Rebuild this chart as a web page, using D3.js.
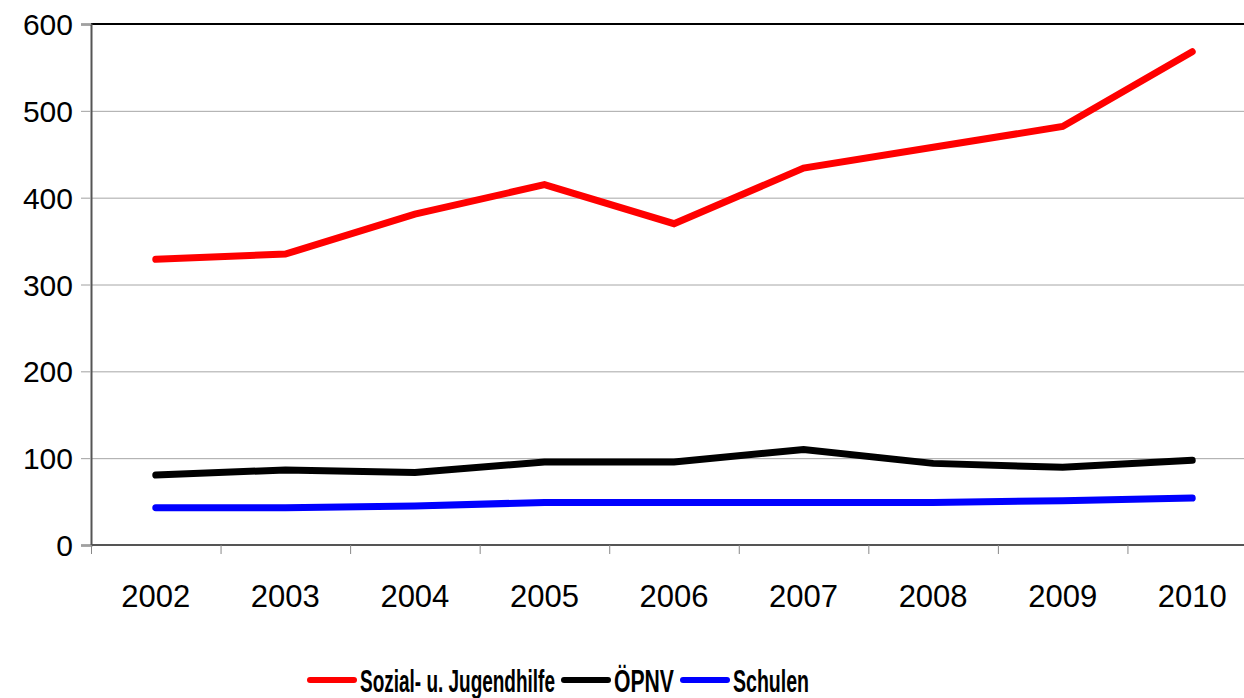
<!DOCTYPE html>
<html>
<head>
<meta charset="utf-8">
<script src="https://cdn.jsdelivr.net/npm/d3@7"></script>
<style>
    body { margin: 0; background: #fff; }
    svg { display: block; }
</style>
</head>
<body>
<svg id="chart" width="1244" height="698"></svg>
<script>
const years = ['2002', '2003', '2004', '2005', '2006', '2007', '2008', '2009', '2010'];
const seriesNames = ['Sozial- u. Jugendhilfe', 'ÖPNV', 'Schulen'];
const seriesColors = ['#ff0000', '#000000', '#0000ff'];
const sozialValues = [329, 335, 381, 415, 370, 434, 458, 482, 568];
const oepnvValues = [80.5, 86.5, 83.5, 95.5, 95.5, 110, 94, 89.5, 97.5];
const schulenValues = [43, 43, 45, 49, 49, 49, 49, 51, 54];
const yTicks = [0, 100, 200, 300, 400, 500, 600];

const series = [sozialValues, oepnvValues, schulenValues].map((values, i) => ({
    name: seriesNames[i],
    color: seriesColors[i],
    values: values
}));

const svg = d3.select('#chart');
const font = '"Liberation Sans", Arial, sans-serif';

const plot = {left: 91, top: 24, bottom: 545, right: 1257};

const x = d3.scaleBand().domain(years).range([plot.left, plot.right]);
const y = d3.scaleLinear().domain([0, 600]).range([plot.bottom, plot.top]);

// gridlines
svg.append('g')
    .selectAll('line')
    .data(yTicks.filter((t) => t > 0 && t < 600))
    .join('line')
      .attr('x1', plot.left)
      .attr('x2', plot.right)
      .attr('y1', (d) => y(d) + 0.5)
      .attr('y2', (d) => y(d) + 0.5)
      .attr('stroke', '#a6a6a6')
      .attr('stroke-width', 1);

// top border
svg.append('line')
    .attr('x1', plot.left)
    .attr('x2', plot.right)
    .attr('y1', y(600))
    .attr('y2', y(600))
    .attr('stroke', '#000')
    .attr('stroke-width', 2);

// y axis
const yAxis = svg.append('g')
    .attr('transform', `translate(${plot.left},0)`)
    .call(d3.axisLeft(y).tickValues(yTicks).tickSize(10).tickPadding(8));
yAxis.select('.domain').attr('stroke', '#555').attr('stroke-width', 2);
yAxis.selectAll('.tick line').attr('stroke', '#a0a0a0');
yAxis.selectAll('.tick text')
    .attr('font-family', font)
    .attr('font-size', 30)
    .attr('fill', '#000')
    .attr('dy', '0.35em');

// x axis, ticks between categories
const xAxis = svg.append('g')
    .attr('transform', `translate(0,${plot.bottom})`);
xAxis.append('line')
    .attr('x1', plot.left)
    .attr('x2', plot.right)
    .attr('stroke', '#555')
    .attr('stroke-width', 2);
xAxis.selectAll('line.xtick')
    .data(years)
    .join('line')
      .attr('class', 'xtick')
      .attr('x1', (d) => x(d) + 0.5)
      .attr('x2', (d) => x(d) + 0.5)
      .attr('y1', 0)
      .attr('y2', 9)
      .attr('stroke', '#888');
xAxis.selectAll('text')
    .data(years)
    .join('text')
      .attr('x', (d) => x(d) + x.bandwidth() / 2)
      .attr('y', 62)
      .attr('text-anchor', 'middle')
      .attr('font-family', font)
      .attr('font-size', 31)
      .attr('fill', '#000')
      .text((d) => d);

// lines
const line = d3.line()
    .x((d, i) => x(years[i]) + x.bandwidth() / 2)
    .y((d) => y(d));

svg.append('g')
    .selectAll('path')
    .data(series)
    .join('path')
      .attr('d', (d) => line(d.values))
      .attr('fill', 'none')
      .attr('stroke', (d) => d.color)
      .attr('stroke-width', 7)
      .attr('stroke-linecap', 'round')
      .attr('stroke-linejoin', 'miter');

// legend - text squeezed horizontally into the original's widths
const legendWidths = [195, 60, 76];
const legend = svg.append('g');
let nextLeft = 310;
series.forEach((s, i) => {
    legend.append('line')
        .attr('x1', nextLeft)
        .attr('x2', nextLeft + 44)
        .attr('y1', 680)
        .attr('y2', 680)
        .attr('stroke', s.color)
        .attr('stroke-width', 6)
        .attr('stroke-linecap', 'round');
    const label = legend.append('g');
    const text = label.append('text')
        .attr('font-family', font)
        .attr('font-weight', 'bold')
        .attr('font-size', 32)
        .attr('fill', '#000')
        .text(s.name);
    const sx = legendWidths[i] / text.node().getComputedTextLength();
    label.attr('transform', `translate(${nextLeft + 50},692) scale(${sx},1)`);
    nextLeft += 50 + legendWidths[i] + 9;
});
</script>
</body>
</html>
